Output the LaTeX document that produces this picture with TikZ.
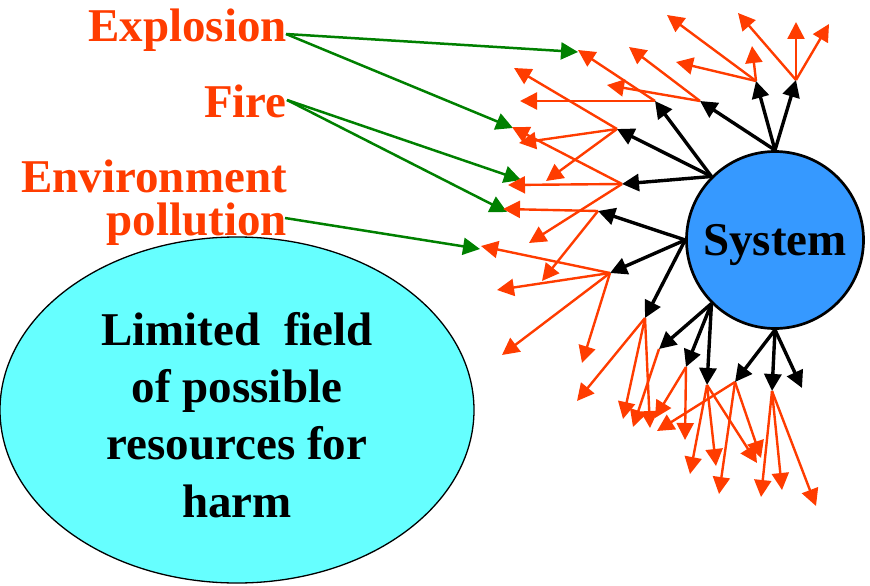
\documentclass[tikz,border=0pt]{standalone}
\usepackage{fontspec}
\setmainfont{Liberation Serif}
\usepackage{tikz}
\usetikzlibrary{arrows.meta,shapes.geometric}

\definecolor{harmred}{RGB}{255,60,0}
\definecolor{linkgreen}{RGB}{0,128,0}
\definecolor{sysblue}{RGB}{54,153,255}
\definecolor{fieldcyan}{RGB}{102,255,255}

\begin{document}
\begin{tikzpicture}[x=1pt,y=-1pt,
        tip/.style={-{Triangle[length=17pt,width=17pt]}},
        cause/.style={tip,linkgreen,line width=2.5pt},
        branch/.style={tip,black,line width=3.4pt},
        harm/.style={tip,harmred,line width=2.4pt},
        hazard/.style={harmred,inner sep=0pt,font=\fontsize{47}{43}\selectfont\bfseries},
        field/.style={ellipse,draw,line width=1.3pt,fill=fieldcyan,minimum width=474pt,minimum height=346pt,inner sep=0pt},
        sys/.style={circle,draw,line width=2.7pt,fill=sysblue,minimum size=177pt,inner sep=0pt,text depth=0pt,font=\fontsize{47}{57}\selectfont\bfseries}]
        \useasboundingbox (0,0) rectangle (870,586);

        % field of resources
        \node[field] (field) at (237,410) {};
        \node[align=center,inner sep=0pt,font=\fontsize{47}{57.3}\selectfont\bfseries] (fieldtext) at (237,415)
            {Limited\ \ field\\of possible\\resources for\\harm};

        % hazards
        \node[hazard,anchor=base east] (explosion) at (287,42) {Explosion};
        \node[hazard,anchor=base east] (fire) at (287,117) {Fire};
        \node[hazard,anchor=north east,align=right] (pollution) at (287,160) {Environment\\pollution};
        \coordinate (explout) at (286,34);
        \coordinate (fireout) at (287,100);
        \coordinate (pollout) at (285,218);

        % system
        \node[sys] (system) at (775,240) {System};

        % hubs at the black tips
        \foreach \n/\x/\y in {A/756/81, B/796/80, C/700/101,
                              D/655/101, E/617/129, F/622/184,
                              G/598/211, H/610/273, I/645/318,
                              J/659/349, K/686/367, L/707/385,
                              M/735/382, N/772/391, O/802/388}
            \coordinate (hub\n) at (\x,\y);

        % green links
        \foreach \s/\x/\y [count=\i] in {expl/578/52, expl/513/128, fire/521/180, fire/507/212, poll/480/249} {
            \coordinate (hit\i) at (\x,\y);
            \draw[cause] (\s out) -- (hit\i);
        }

        % red branches
        \foreach \h/\x/\y [count=\i] in {A/667/15, A/752/46, A/676/62,
                                         B/738/13, B/796/22, B/829/24,
                                         C/629/47, C/607/85,
                                         D/578/50, D/520/101,
                                         E/514/68, E/519/143, E/546/181,
                                         F/512/127, F/508/185, F/529/243,
                                         G/503/209, G/542/281,
                                         H/481/246, H/497/290, H/502/355, H/582/363,
                                         I/577/401, I/623/419, I/650/428,
                                         J/633/427,
                                         K/655/418, K/685/440,
                                         L/690/474, L/716/466, L/757/463,
                                         M/657/431, M/719/494, M/761/458,
                                         N/761/497, N/782/490, N/816/506} {
            \coordinate (harm\i) at (\x,\y);
            \draw[harm] (hub\h) -- (harm\i);
        }

        % black branches
        \foreach \a/\h in {90/A, 90/B, 90/C, 135/D, 135/E, 135/F, 180/G, 180/H, 180/I,
                           225/J, 225/K, 225/L, 270/M, 270/N, 270/O}
            \draw[branch] (system.\a) -- (hub\h);
\end{tikzpicture}
\end{document}
